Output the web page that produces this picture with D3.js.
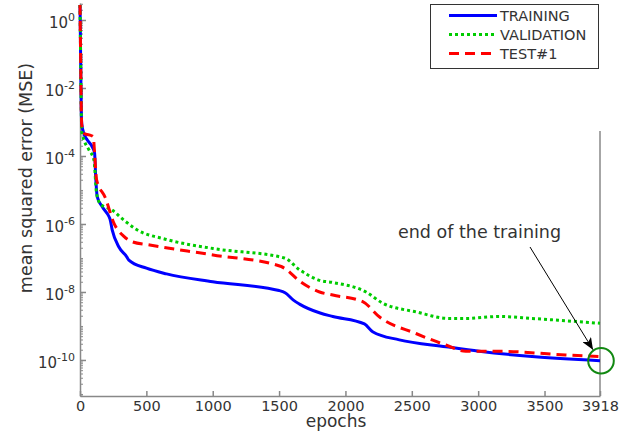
<!DOCTYPE html>
<html>
<head>
<meta charset="utf-8">
<script src="https://cdn.jsdelivr.net/npm/d3@7"></script>
<style>
  body { margin: 0; background: #fff; }
  text { font-family: "DejaVu Sans", sans-serif; fill: #333; }
</style>
</head>
<body>
<svg id="chart" width="624" height="436"></svg>
<script>
const width = 624;
const height = 436;

// series (epoch, mse)
const trainingEpochs = [0, 3, 6, 9, 13, 30, 55, 92, 110, 118, 130, 168, 218, 226, 243, 293, 351, 368, 501, 652, 1000, 1500, 1545, 1608, 1654, 1809, 1905, 2143, 2205, 2406, 2757, 3008, 3406, 3918];
const trainingMse = [2.75, 0.316, 0.0316, 3.16e-3, 8.9e-4, 4.5e-4, 2.95e-4, 1.86e-4, 1.2e-4, 2.5e-5, 6.3e-6, 3.2e-6, 1.66e-6, 1.4e-6, 6.6e-7, 2.1e-7, 1.1e-7, 8.7e-8, 5.0e-8, 3.4e-8, 2.0e-8, 1.1e-8, 9.5e-9, 5.75e-9, 4.4e-9, 2.4e-9, 1.9e-9, 1.15e-9, 6.8e-10, 3.9e-10, 2.45e-10, 1.8e-10, 1.26e-10, 9.5e-11];

const validationEpochs = [0, 3, 6, 9, 14, 30, 68, 105, 125, 155, 240, 330, 420, 652, 1002, 1540, 1654, 1805, 1905, 2155, 2280, 2531, 2782, 2907, 3158, 3406, 3918];
const validationMse = [2.75, 0.316, 0.0316, 3.16e-3, 5.0e-4, 2.95e-4, 1.5e-4, 7.6e-5, 7.9e-6, 3.8e-6, 2.6e-6, 1.3e-6, 7.1e-7, 3.5e-7, 1.9e-7, 1.0e-7, 4.5e-8, 2.2e-8, 1.9e-8, 1.0e-8, 4.7e-9, 2.6e-9, 1.66e-9, 1.66e-9, 1.9e-9, 1.66e-9, 1.2e-9];

const testEpochs = [0, 3, 6, 9, 14, 35, 68, 100, 110, 125, 190, 256, 331, 393, 526, 1002, 1516, 1540, 1654, 1805, 1905, 2130, 2255, 2531, 2757, 2907, 3158, 3659, 3918];
const testMse = [2.75, 0.316, 0.0316, 3.16e-3, 7.9e-4, 4.5e-4, 4.2e-4, 3.7e-4, 1.2e-4, 2.0e-5, 6.0e-6, 1.05e-6, 4.3e-7, 3.0e-7, 2.4e-7, 1.23e-7, 5.6e-8, 5.0e-8, 2.1e-8, 1.0e-8, 8.1e-9, 5.2e-9, 1.86e-9, 6.0e-10, 2.75e-10, 1.8e-10, 1.8e-10, 1.4e-10, 1.26e-10];

const seriesNames = ["TRAINING", "VALIDATION", "TEST#1"];
const epochTicks = [0, 500, 1000, 1500, 2000, 2500, 3000, 3500, 3918];
const mseTicks = [1e0, 1e-2, 1e-4, 1e-6, 1e-8, 1e-10];
const annotationText = "end of the training";

const styles = [
  {color: "#0000ff", dash: null},
  {color: "#00cc00", dash: "3,3"},
  {color: "#ff0000", dash: "10,6"}
];

const svg = d3.select("#chart");

const x = d3.scaleLinear([0, 3918], [80, 600]);
const y = d3.scaleLog([Math.pow(10, -11.06), Math.pow(10, 0.5)], [396, 3]);

// minor log ticks
const minorTicks = [];
for (let e = -12; e <= 0; e++) {
  for (let m = 1; m <= 9; m++) {
    const v = m * Math.pow(10, e);
    if (v >= y.domain()[0] && v <= y.domain()[1]) minorTicks.push(v);
  }
}

const axisColor = "#888";

// minor y ticks
svg.append("g")
  .attr("transform", "translate(80,0)")
  .call(d3.axisRight(y).tickValues(minorTicks).tickSize(3).tickFormat(""))
  .call(g => g.select(".domain").remove())
  .call(g => g.selectAll("line").attr("stroke", axisColor).attr("stroke-width", 1));

// major y axis
svg.append("g")
  .attr("transform", "translate(80,0)")
  .call(d3.axisLeft(y).tickValues(mseTicks).tickSizeInner(-6).tickSizeOuter(0))
  .call(g => g.select(".domain").attr("stroke", axisColor).attr("stroke-width", 1.5))
  .call(g => g.selectAll(".tick line").attr("stroke", axisColor).attr("stroke-width", 1.5))
  .call(g => g.selectAll(".tick text").each(function(d) {
    const t = d3.select(this).text(null)
      .attr("x", -5).attr("dy", 7.5).attr("font-size", 15).attr("font-family", "DejaVu Sans").attr("fill", "#333");
    t.append("tspan").text("10");
    t.append("tspan").attr("font-size", 11).attr("dy", -7).text(Math.round(Math.log10(d)));
  }));

// x axis
svg.append("g")
  .attr("transform", "translate(0,396)")
  .call(d3.axisBottom(x).tickValues(epochTicks).tickSizeInner(-5).tickSizeOuter(0).tickPadding(0).tickFormat(d3.format("d")))
  .call(g => g.select(".domain").attr("stroke", axisColor).attr("stroke-width", 1.5))
  .call(g => g.selectAll(".tick line").attr("stroke", axisColor).attr("stroke-width", 1.5))
  .call(g => g.selectAll(".tick text").attr("y", 14.5).attr("dy", null)
    .attr("font-size", 14.5).attr("font-family", "DejaVu Sans").attr("fill", "#333"));

// vertical end line
svg.append("line")
  .attr("x1", x(3918)).attr("x2", x(3918))
  .attr("y1", 131).attr("y2", 396)
  .attr("stroke", axisColor).attr("stroke-width", 1.5);

// axis labels
svg.append("text")
  .attr("x", 336).attr("y", 427)
  .attr("text-anchor", "middle")
  .attr("font-size", 17)
  .text("epochs");

svg.append("text")
  .attr("transform", "translate(32,178) rotate(-90)")
  .attr("text-anchor", "middle")
  .attr("font-size", 17.5)
  .text("mean squared error (MSE)");

// lines
const line = d3.line()
  .x(d => x(d[0]))
  .y(d => y(d[1]))
  .curve(d3.curveMonotoneX);

const series = [
  d3.zip(trainingEpochs, trainingMse),
  d3.zip(validationEpochs, validationMse),
  d3.zip(testEpochs, testMse)
];

svg.append("g").selectAll("path")
  .data(series)
  .join("path")
  .attr("fill", "none")
  .attr("stroke", (d, i) => styles[i].color)
  .attr("stroke-width", 3)
  .attr("stroke-dasharray", (d, i) => styles[i].dash)
  .attr("d", line);

// annotation
const endX = x(3918);
const endY = y(trainingMse[trainingMse.length - 1]);

svg.append("defs").append("marker")
  .attr("id", "arrow")
  .attr("viewBox", "0 0 12 10")
  .attr("refX", 12).attr("refY", 5)
  .attr("markerWidth", 12).attr("markerHeight", 10)
  .attr("markerUnits", "userSpaceOnUse")
  .attr("orient", "auto")
  .append("path")
  .attr("d", "M0,0 L12,5 L0,10 L3,5 Z")
  .attr("fill", "#000");

svg.append("line")
  .attr("x1", 530).attr("y1", 247)
  .attr("x2", endX - 7).attr("y2", endY - 11)
  .attr("stroke", "#000").attr("stroke-width", 1)
  .attr("marker-end", "url(#arrow)");

svg.append("circle")
  .attr("cx", endX + 1).attr("cy", endY)
  .attr("r", 12.8)
  .attr("fill", "none")
  .attr("stroke", "#118811")
  .attr("stroke-width", 2);

svg.append("text")
  .attr("x", 398).attr("y", 238)
  .attr("font-size", 17.5)
  .text(annotationText);

// legend
const legend = svg.append("g");
legend.append("rect")
  .attr("x", 430.5).attr("y", 4.5)
  .attr("width", 168).attr("height", 64)
  .attr("fill", "#fff")
  .attr("stroke", "#333").attr("stroke-width", 1);

const legendY = d3.scalePoint(seriesNames, [15.5, 53.5]);
const items = legend.selectAll("g.item")
  .data(seriesNames)
  .join("g").attr("class", "item")
  .attr("transform", d => `translate(0,${legendY(d)})`);

items.append("line")
  .attr("x1", 449).attr("x2", 497)
  .attr("stroke", (d, i) => styles[i].color)
  .attr("stroke-width", 3)
  .attr("stroke-dasharray", (d, i) => styles[i].dash);

items.append("text")
  .attr("x", 500).attr("dy", "0.36em")
  .attr("font-size", 14.5)
  .text(d => d);
</script>
</body>
</html>
